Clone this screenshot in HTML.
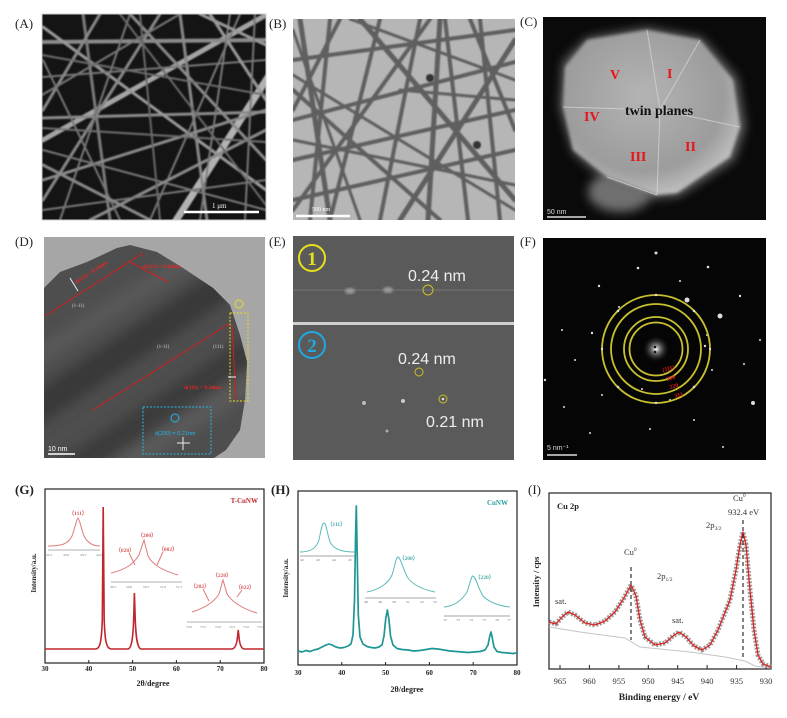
<!DOCTYPE html>
<html><head><meta charset="utf-8"><style>
html,body{margin:0;padding:0;background:#fff;}
svg{display:block;}
text{font-family:"Liberation Serif",serif;}
.sans{font-family:"Liberation Sans",sans-serif;}
</style></head><body>
<svg width="787" height="718" viewBox="0 0 787 718" xmlns="http://www.w3.org/2000/svg">
<defs>
<clipPath id="cA"><rect x="42" y="14" width="224" height="206"/></clipPath>
<clipPath id="cB"><rect x="293" y="19" width="222" height="201"/></clipPath>
<clipPath id="cC"><rect x="543" y="17" width="223" height="203"/></clipPath>
<clipPath id="cD"><rect x="44" y="237" width="221" height="221"/></clipPath>
<clipPath id="cBlob"><path d="M44,288 L60,272 L87,262 L117,248 L130,245 L157,252 L183,268 L213,288 L230,305 L240,335 L247,362 L245,400 L240,430 L226,450 L214,458 L44,458 Z"/></clipPath>
<clipPath id="cF"><rect x="543" y="238" width="223" height="222"/></clipPath>
<radialGradient id="gC" cx="0.45" cy="0.4" r="0.65"><stop offset="0" stop-color="#b4b4b4"/><stop offset="0.7" stop-color="#9c9c9c"/><stop offset="1" stop-color="#c8c8c8"/></radialGradient>
<radialGradient id="gF" cx="0.5" cy="0.5" r="0.5"><stop offset="0" stop-color="#ffffff"/><stop offset="0.25" stop-color="#888"/><stop offset="1" stop-color="#000" stop-opacity="0"/></radialGradient>
<filter id="bl" x="-20%" y="-20%" width="140%" height="140%"><feGaussianBlur stdDeviation="5"/></filter>
<filter id="bl2"><feGaussianBlur stdDeviation="1.2"/></filter>
<filter id="bl3" x="-10%" y="-10%" width="120%" height="120%"><feGaussianBlur stdDeviation="0.7"/></filter>
<filter id="bl6" x="-30%" y="-30%" width="160%" height="160%"><feGaussianBlur stdDeviation="7"/></filter>
<filter id="blc" x="-10%" y="-10%" width="120%" height="120%"><feGaussianBlur stdDeviation="1.5"/></filter>
</defs>

<!-- panel labels -->
<g font-size="13" fill="#222">
<text x="15" y="28">(A)</text>
<text x="269" y="28">(B)</text>
<text x="520" y="26">(C)</text>
<text x="15" y="246">(D)</text>
<text x="269" y="246">(E)</text>
<text x="520" y="246">(F)</text>
<text x="15" y="494" font-weight="bold">(G)</text>
<text x="271" y="494" font-weight="bold">(H)</text>
<text x="528" y="494">(I)</text>
</g>

<!-- Panel A -->
<g clip-path="url(#cA)">
<rect x="42" y="14" width="224" height="206" fill="#141414"/>
<g stroke-linecap="round" fill="none" filter="url(#bl3)">
<line x1="43" y1="140" x2="266" y2="15" stroke="#a4a4a4" stroke-width="5"/>
<line x1="175" y1="222" x2="268" y2="77" stroke="#b2b2b2" stroke-width="7"/>
<line x1="42" y1="42" x2="266" y2="40" stroke="#8a8a8a" stroke-width="4"/>
<line x1="42" y1="118" x2="266" y2="112" stroke="#8a8a8a" stroke-width="3"/>
<line x1="43" y1="27" x2="266" y2="190" stroke="#999" stroke-width="3"/>
<line x1="83" y1="14" x2="110" y2="220" stroke="#7a7a7a" stroke-width="3"/>
<line x1="180" y1="14" x2="207" y2="220" stroke="#888" stroke-width="3"/>
<line x1="43" y1="180" x2="266" y2="110" stroke="#8a8a8a" stroke-width="3"/>
<line x1="43" y1="77" x2="266" y2="60" stroke="#777" stroke-width="2"/>
<line x1="100" y1="14" x2="43" y2="110" stroke="#888" stroke-width="3"/>
<line x1="43" y1="200" x2="160" y2="14" stroke="#888" stroke-width="3"/>
<line x1="130" y1="14" x2="266" y2="160" stroke="#8a8a8a" stroke-width="3"/>
<line x1="43" y1="150" x2="266" y2="210" stroke="#777" stroke-width="2"/>
<line x1="150" y1="220" x2="240" y2="14" stroke="#7a7a7a" stroke-width="2"/>
<line x1="60" y1="220" x2="130" y2="14" stroke="#777" stroke-width="2"/>
<line x1="210" y1="14" x2="266" y2="100" stroke="#999" stroke-width="3"/>
<line x1="42" y1="95" x2="180" y2="14" stroke="#777" stroke-width="2"/>
<line x1="90" y1="220" x2="266" y2="130" stroke="#8a8a8a" stroke-width="3"/>
<line x1="43" y1="60" x2="120" y2="220" stroke="#777" stroke-width="2"/>
<line x1="230" y1="14" x2="200" y2="220" stroke="#7a7a7a" stroke-width="2"/>
<line x1="43" y1="210" x2="266" y2="180" stroke="#777" stroke-width="2"/>
<line x1="140" y1="14" x2="160" y2="220" stroke="#6a6a6a" stroke-width="2"/>
<line x1="43" y1="165" x2="150" y2="220" stroke="#888" stroke-width="3"/>
<line x1="200" y1="14" x2="266" y2="45" stroke="#999" stroke-width="3"/>
<line x1="42" y1="128" x2="266" y2="142" stroke="#6f6f6f" stroke-width="2"/>
<line x1="120" y1="14" x2="266" y2="205" stroke="#6a6a6a" stroke-width="2"/>
<line x1="255" y1="14" x2="245" y2="220" stroke="#777" stroke-width="2"/>
<line x1="42" y1="55" x2="266" y2="95" stroke="#6c6c6c" stroke-width="2"/>
</g>
<line x1="184" y1="212" x2="259" y2="212" stroke="#fff" stroke-width="2.5"/>
<text x="212" y="208" font-size="7" fill="#fff">1 μm</text>
</g>
<rect x="42" y="14" width="224" height="206" fill="none" stroke="#ccc" stroke-width="1"/>

<!-- Panel B -->
<g clip-path="url(#cB)">
<rect x="293" y="19" width="222" height="201" fill="#b6b6b6"/>
<g stroke-linecap="round" fill="none" stroke="#5e5e5e" filter="url(#bl3)">
<line x1="293" y1="60" x2="515" y2="30" stroke-width="4"/>
<line x1="300" y1="19" x2="330" y2="220" stroke-width="5"/>
<line x1="330" y1="19" x2="310" y2="220" stroke-width="4"/>
<line x1="293" y1="120" x2="515" y2="62" stroke-width="4"/>
<line x1="380" y1="19" x2="330" y2="220" stroke-width="4"/>
<line x1="440" y1="19" x2="428" y2="220" stroke-width="5"/>
<line x1="293" y1="160" x2="515" y2="110" stroke-width="4"/>
<line x1="293" y1="90" x2="440" y2="220" stroke-width="4"/>
<line x1="360" y1="19" x2="515" y2="200" stroke-width="5"/>
<line x1="470" y1="19" x2="515" y2="130" stroke-width="4"/>
<line x1="293" y1="200" x2="515" y2="150" stroke-width="4"/>
<line x1="420" y1="19" x2="380" y2="220" stroke-width="4"/>
<line x1="293" y1="30" x2="360" y2="220" stroke-width="3"/>
<line x1="515" y1="40" x2="400" y2="220" stroke-width="5"/>
<line x1="445" y1="19" x2="468" y2="220" stroke-width="4"/>
<line x1="293" y1="140" x2="515" y2="185" stroke-width="3"/>
<line x1="340" y1="19" x2="293" y2="110" stroke-width="4"/>
<line x1="400" y1="90" x2="515" y2="100" stroke-width="3"/>
<line x1="480" y1="19" x2="500" y2="220" stroke-width="4"/>
<line x1="293" y1="210" x2="430" y2="19" stroke-width="4"/>
<line x1="350" y1="19" x2="515" y2="80" stroke-width="3"/>
<line x1="293" y1="75" x2="515" y2="210" stroke-width="3"/>
</g>
<circle cx="430" cy="78" r="4" fill="#333" filter="url(#bl3)"/>
<circle cx="477" cy="145" r="4" fill="#333" filter="url(#bl3)"/>
<line x1="296" y1="216" x2="350" y2="216" stroke="#fff" stroke-width="2.5"/>
<text x="312" y="211" font-size="6" fill="#fff">500 nm</text>
</g>

<!-- Panel C -->
<g clip-path="url(#cC)">
<rect x="543" y="17" width="223" height="203" fill="#0a0a0a"/>
<ellipse cx="620" cy="192" rx="32" ry="20" fill="#707070" filter="url(#bl)"/>
<path d="M563,62 L587,38 L647,28 L702,38 L737,78 L745,127 L734,160 L679,196 L655,198 L605,180 L573,152 L560,107 Z" fill="#6a6a6a" filter="url(#bl)"/>
<path d="M565,67 L587,40 L647,30 L700,40 L733,80 L740,127 L730,157 L677,193 L657,195 L607,177 L573,150 L563,107 Z" fill="url(#gC)" filter="url(#blc)"/>
<g stroke="#d8d8d8" stroke-width="1" fill="none" opacity="0.7">
<path d="M647,30 L660,110 L700,40"/>
<path d="M660,110 L740,127"/>
<path d="M660,110 L657,195"/>
<path d="M660,110 L563,107"/>
<path d="M607,177 L657,195"/>
</g>
<g fill="#e8141a" font-weight="bold" font-size="14">
<text x="610" y="79">V</text>
<text x="667" y="78">I</text>
<text x="584" y="121">IV</text>
<text x="630" y="161">III</text>
<text x="685" y="151">II</text>
</g>
<text x="625" y="115" font-size="14" font-weight="bold" fill="#111">twin planes</text>
<line x1="547" y1="217" x2="586" y2="217" stroke="#ddd" stroke-width="1.5"/>
<text x="547" y="214" font-size="7" class="sans" fill="#ddd">50 nm</text>
</g>

<!-- Panel D -->
<g clip-path="url(#cD)">
<rect x="44" y="237" width="221" height="221" fill="#a6a6a6"/>
<g clip-path="url(#cBlob)">
<rect x="44" y="237" width="221" height="221" fill="#4e4e4e"/>
<g stroke-linecap="butt" fill="none" filter="url(#bl6)">
<line x1="20" y1="420" x2="260" y2="260" stroke="#383838" stroke-width="30"/>
<line x1="40" y1="490" x2="280" y2="330" stroke="#3a3a3a" stroke-width="26"/>
<line x1="0" y1="380" x2="220" y2="240" stroke="#5a5a5a" stroke-width="16"/>
<line x1="100" y1="480" x2="300" y2="350" stroke="#5c5c5c" stroke-width="18"/>
</g>
</g>
<g stroke="#d21e1e" stroke-width="1" fill="none">
<line x1="45" y1="316" x2="143" y2="253"/>
<line x1="130" y1="262" x2="168" y2="282"/>
<line x1="93" y1="410" x2="230" y2="323"/>
<line x1="232" y1="325" x2="236" y2="400"/>
</g>
<g fill="#e22" font-size="5.5" font-weight="bold" class="sans">
<text x="76" y="284" transform="rotate(-33 76 284)">d(111) = 0.24nm</text>
<text x="143" y="268">d(111) = 0.24nm</text>
<text x="184" y="389">d(111) = 0.24nm</text>
</g>
<g fill="#ccc" font-size="5" class="sans">
<text x="72" y="307">(1-11)</text>
<text x="157" y="348">(1-11)</text>
<text x="213" y="348">(111)</text>
</g>
<rect x="230" y="313" width="18" height="88" fill="none" stroke="#e6dc1c" stroke-width="1" stroke-dasharray="2 1.5"/>
<circle cx="239" cy="304" r="4" fill="none" stroke="#e6dc1c" stroke-width="1"/>
<rect x="143" y="407" width="68" height="47" fill="none" stroke="#26b4e6" stroke-width="1" stroke-dasharray="2 1.5"/>
<circle cx="175" cy="418" r="4" fill="none" stroke="#26b4e6" stroke-width="1"/>
<text x="155" y="435" fill="#26b4e6" font-size="5.5" class="sans">d(200) = 0.21nm</text>
<g stroke="#eee" stroke-width="1"><line x1="177" y1="443" x2="190" y2="443"/><line x1="183" y1="437" x2="183" y2="450"/><line x1="228" y1="377" x2="236" y2="377"/><line x1="70" y1="278" x2="78" y2="291"/></g>
<line x1="48" y1="454" x2="75" y2="454" stroke="#fff" stroke-width="1.5"/>
<text x="48" y="451" font-size="7" class="sans" fill="#fff">10 nm</text>
</g>

<!-- Panel E -->
<rect x="293" y="236" width="221" height="224" fill="#5a5a5a"/>
<rect x="293" y="322" width="221" height="3" fill="#d0d0d0"/>
<line x1="293" y1="290" x2="514" y2="290" stroke="#777" stroke-width="1"/>
<ellipse cx="350" cy="291" rx="5" ry="3" fill="#999" filter="url(#bl2)"/>
<ellipse cx="388" cy="290" rx="5" ry="3" fill="#999" filter="url(#bl2)"/>
<circle cx="312" cy="258" r="13" fill="none" stroke="#e8e01c" stroke-width="2"/>
<text x="312" y="265" text-anchor="middle" font-size="19" font-weight="bold" fill="#e8e01c">1</text>
<text x="408" y="281" font-size="16" class="sans" fill="#eee">0.24 nm</text>
<circle cx="428" cy="290" r="5" fill="none" stroke="#c8c020" stroke-width="1"/>
<circle cx="312" cy="345" r="13" fill="none" stroke="#22a8e0" stroke-width="2"/>
<text x="312" y="352" text-anchor="middle" font-size="19" font-weight="bold" fill="#22a8e0">2</text>
<text x="398" y="364" font-size="16" class="sans" fill="#eee">0.24 nm</text>
<circle cx="419" cy="372" r="4" fill="none" stroke="#c8c020" stroke-width="1"/>
<circle cx="443" cy="399" r="4" fill="none" stroke="#c8c020" stroke-width="1"/>
<text x="426" y="427" font-size="16" class="sans" fill="#eee">0.21 nm</text>
<circle cx="364" cy="403" r="2" fill="#bbb"/>
<circle cx="403" cy="401" r="2" fill="#ccc"/>
<circle cx="387" cy="431" r="1.5" fill="#aaa"/>
<circle cx="443" cy="399" r="1.3" fill="#ddd"/>

<!-- Panel F -->
<g clip-path="url(#cF)">
<rect x="543" y="238" width="223" height="222" fill="#050505"/>
<circle cx="656" cy="349" r="14" fill="url(#gF)"/>
<g fill="#ddd">
<circle cx="655" cy="347" r="1.3" fill="#111"/><circle cx="655" cy="352" r="1.3" fill="#111"/>
<circle cx="687" cy="300" r="2.5"/><circle cx="720" cy="316" r="2.5"/><circle cx="753" cy="403" r="2"/>
<circle cx="656" cy="253" r="1.5"/><circle cx="638" cy="268" r="1.3"/><circle cx="708" cy="267" r="1.3"/>
<circle cx="740" cy="296" r="1.2"/><circle cx="599" cy="286" r="1.2"/><circle cx="592" cy="333" r="1.2"/>
<circle cx="705" cy="346" r="1.2"/><circle cx="562" cy="330" r="1"/><circle cx="707" cy="335" r="1"/>
<circle cx="712" cy="370" r="1"/><circle cx="602" cy="395" r="1"/><circle cx="564" cy="407" r="1"/>
<circle cx="590" cy="433" r="1"/><circle cx="650" cy="429" r="1"/><circle cx="723" cy="447" r="1"/>
<circle cx="744" cy="364" r="1"/><circle cx="619" cy="307" r="1"/><circle cx="680" cy="281" r="1"/>
<circle cx="642" cy="389" r="1"/><circle cx="670" cy="400" r="1"/><circle cx="760" cy="340" r="1"/>
<circle cx="545" cy="380" r="1.2"/><circle cx="575" cy="360" r="1"/><circle cx="694" cy="420" r="1"/>
</g>
<g fill="none" stroke="#c9c030" stroke-width="1.8">
<circle cx="656" cy="349" r="54"/>
<circle cx="656" cy="349" r="45"/>
<circle cx="656" cy="349" r="32"/>
<circle cx="656" cy="349" r="26.5"/>
</g>
<g fill="#ddd">
<circle cx="656" cy="295" r="1.2"/><circle cx="656" cy="403" r="1.2"/><circle cx="602" cy="349" r="1.2"/><circle cx="710" cy="349" r="1.2"/>
<circle cx="618" cy="311" r="1.2"/><circle cx="694" cy="311" r="1.2"/><circle cx="618" cy="387" r="1.2"/><circle cx="694" cy="387" r="1.2"/>
</g>
<g fill="#e01818" font-size="6" font-weight="bold" class="sans">
<text x="663" y="372" transform="rotate(-15 663 372)">(111)</text>
<text x="667" y="381" transform="rotate(-15 667 381)">200</text>
<text x="670" y="389" transform="rotate(-15 670 389)">220</text>
<text x="675" y="398" transform="rotate(-15 675 398)">311</text>
</g>
<line x1="547" y1="455" x2="577" y2="455" stroke="#ddd" stroke-width="1.5"/>
<text x="547" y="450" font-size="7" class="sans" fill="#ddd">5 nm⁻¹</text>
</g>

<!-- Panel G -->
<rect x="45" y="489" width="219" height="174" fill="none" stroke="#222" stroke-width="1.2"/>
<g stroke="#222" stroke-width="1">
<line x1="88.8" y1="663" x2="88.8" y2="660"/><line x1="132.6" y1="663" x2="132.6" y2="660"/><line x1="176.4" y1="663" x2="176.4" y2="660"/><line x1="220.2" y1="663" x2="220.2" y2="660"/>
</g>
<g font-size="7" text-anchor="middle" fill="#222" font-weight="bold">
<text x="45" y="671">30</text><text x="88.8" y="671">40</text><text x="132.6" y="671">50</text><text x="176.4" y="671">60</text><text x="220.2" y="671">70</text><text x="264" y="671">80</text>
</g>
<text x="153" y="686" font-size="8" font-weight="bold" text-anchor="middle" fill="#222">2θ/degree</text>
<text x="0" y="0" font-size="7" font-weight="bold" text-anchor="middle" fill="#222" transform="translate(36 573) rotate(-90)">Intensity/a.u.</text>
<path d="M45,649 L96,649 C100,648.5 101.5,642 102.3,620 L103.2,507 L104.2,620 C105,642 106.5,648.5 111,649 L128,649 C132,648 133.2,636 133.8,615 L134.4,593 L135.1,615 C135.7,636 137,648 141,649 L232,649 C236,648.5 237.2,642 237.7,635 L238.2,630 L238.8,635 C239.3,642 240.5,648.5 244,649 L264,649" fill="none" stroke="#c0272d" stroke-width="1.6"/>
<text x="258" y="503" font-size="7" font-weight="bold" text-anchor="end" fill="#c0272d">T-CuNW</text>
<g fill="none" stroke="#e07a7a" stroke-width="1">
<path d="M48,546 C62,546 68,544 72,536 C75,528 76.5,519 78,518 C79.5,519 81,528 84,536 C88,544 94,546 100,546"/>
<path d="M111,573 C124,570 133,565 139,555 L144,540 L148,556 C153,566 165,571 178,575"/>
<path d="M192,612 C205,608 214,602 219,594 L223,580 L227,594 C232,602 243,609 257,613"/>
<path d="M135,565 L129,553 M157,565 L163,552 M209,601 L203,589 M237,597 L242,590"/>
</g>
<g stroke="#999" stroke-width="0.8"><line x1="48" y1="550" x2="100" y2="550"/><line x1="111" y1="582" x2="182" y2="582"/><line x1="187" y1="622" x2="262" y2="622"/></g>
<g font-size="3.5" fill="#777" text-anchor="middle">
<text x="49" y="556">42.5</text><text x="66" y="556">43.0</text><text x="83" y="556">43.5</text><text x="99" y="556">44.0</text>
<text x="113" y="588">49.5</text><text x="129" y="588">50.0</text><text x="146" y="588">50.5</text><text x="163" y="588">51.0</text><text x="179" y="588">51.5</text>
<text x="189" y="628">73.0</text><text x="203" y="628">73.5</text><text x="218" y="628">74.0</text><text x="232" y="628">74.5</text><text x="246" y="628">75.0</text><text x="260" y="628">75.5</text>
</g>
<g font-size="5.5" font-weight="bold" fill="#d85a5a" text-anchor="middle">
<text x="78" y="515">（111）</text>
<text x="147" y="537">（200）</text>
<text x="125" y="552">（020）</text>
<text x="168" y="551">（002）</text>
<text x="222" y="577">（220）</text>
<text x="200" y="588">（202）</text>
<text x="245" y="589">（022）</text>
</g>

<!-- Panel H -->
<rect x="298" y="491" width="219" height="174" fill="none" stroke="#222" stroke-width="1.2"/>
<g stroke="#222" stroke-width="1">
<line x1="341.8" y1="665" x2="341.8" y2="662"/><line x1="385.6" y1="665" x2="385.6" y2="662"/><line x1="429.4" y1="665" x2="429.4" y2="662"/><line x1="473.2" y1="665" x2="473.2" y2="662"/>
</g>
<g font-size="7" text-anchor="middle" fill="#222" font-weight="bold">
<text x="298" y="675">30</text><text x="341.8" y="675">40</text><text x="385.6" y="675">50</text><text x="429.4" y="675">60</text><text x="473.2" y="675">70</text><text x="517" y="675">80</text>
</g>
<text x="407" y="692" font-size="8" font-weight="bold" text-anchor="middle" fill="#222">2θ/degree</text>
<text x="0" y="0" font-size="7" font-weight="bold" text-anchor="middle" fill="#222" transform="translate(288 578) rotate(-90)">Intensity/a.u.</text>
<path d="M298,651 L302,652 L306,650.5 L310,651.5 L314,650 L318,649 L322,647 L326,645 L329,644 L332,645 L336,647 L340,648 L344,647.5 L348,646 L351,644 L353,635 L354.5,600 L355.5,540 L356.3,506 L357.3,560 L358.3,615 L360,637 L363,644 L367,646.5 L371,647.5 L375,648 L379,647 L382,645 L384,636 L385.8,618 L387.4,610 L389,620 L390.5,636 L393,645 L397,648.5 L402,649.5 L408,650 L414,651 L420,650.5 L426,649.5 L432,648.5 L438,649 L444,650 L450,651 L456,651.5 L462,652 L468,652.5 L474,652 L480,651.5 L485,650 L488,645 L489.8,636 L491,632 L492.3,638 L494,647 L497,651.5 L502,652.5 L508,653 L513,653.5 L517,653" fill="none" stroke="#1f9696" stroke-width="1.7" stroke-linejoin="round"/>
<text x="508" y="505" font-size="7" font-weight="bold" text-anchor="end" fill="#2aa0a0">CuNW</text>
<g fill="none" stroke="#5cbaba" stroke-width="1">
<path d="M300,552 C310,552 316,549 319,540 C321,530 322,523 324,523 C326,523 327,532 330,542 C334,550 343,552 355,552"/>
<path d="M367,592 C378,590 388,584 392,575 C395,566 396,557 398,557 C401,558 403,570 408,578 C414,586 425,590 435,592"/>
<path d="M444,607 C455,606 462,600 467,592 C470,584 471,576 473,576 C476,577 478,588 483,596 C490,603 500,606 510,607"/>
</g>
<g stroke="#888" stroke-width="0.8"><line x1="300" y1="556" x2="355" y2="556"/><line x1="365" y1="598" x2="436" y2="598"/><line x1="444" y1="616" x2="510" y2="616"/></g>
<g font-size="3.5" fill="#666" text-anchor="middle">
<text x="302" y="561">42</text><text x="318" y="561">43</text><text x="334" y="561">44</text><text x="350" y="561">45</text>
<text x="366" y="603">48</text><text x="380" y="603">49</text><text x="394" y="603">50</text><text x="408" y="603">51</text><text x="422" y="603">52</text><text x="435" y="603">53</text>
<text x="445" y="621">72</text><text x="458" y="621">73</text><text x="471" y="621">74</text><text x="484" y="621">75</text><text x="497" y="621">76</text><text x="509" y="621">77</text>
</g>
<g font-size="5.5" font-weight="bold" fill="#4aaaaa">
<text x="327" y="526">（111）</text>
<text x="399" y="560">（200）</text>
<text x="475" y="579">（220）</text>
</g>

<!-- Panel I -->
<rect x="549" y="493" width="222" height="176" fill="none" stroke="#222" stroke-width="1.2"/>
<g stroke="#222" stroke-width="1">
<line x1="560" y1="669" x2="560" y2="665"/><line x1="589.4" y1="669" x2="589.4" y2="665"/><line x1="618.9" y1="669" x2="618.9" y2="665"/><line x1="648.3" y1="669" x2="648.3" y2="665"/><line x1="677.7" y1="669" x2="677.7" y2="665"/><line x1="707.1" y1="669" x2="707.1" y2="665"/><line x1="736.6" y1="669" x2="736.6" y2="665"/><line x1="766" y1="669" x2="766" y2="665"/>
</g>
<g font-size="8.5" text-anchor="middle" fill="#333">
<text x="560" y="684">965</text><text x="589.4" y="684">960</text><text x="618.9" y="684">955</text><text x="648.3" y="684">950</text><text x="677.7" y="684">945</text><text x="707.1" y="684">940</text><text x="736.6" y="684">935</text><text x="766" y="684">930</text>
</g>
<text x="659" y="700" font-size="9.5" font-weight="bold" text-anchor="middle" fill="#222">Binding energy / eV</text>
<text x="0" y="0" font-size="8.5" font-weight="bold" text-anchor="middle" fill="#222" transform="translate(539 582) rotate(-90)">Intensity / cps</text>
<path d="M549,627 L580,632 L625,638 L640,647 L690,652 L725,657 L745,661 L755,666 L771,668" fill="none" stroke="#c4c4c4" stroke-width="1"/>
<polyline points="549,622 556,624 562,617 568,612 575,615 585,623 595,625 605,621 615,612 624,598 631,585 636,596 640,620 645,637 655,645 665,643 673,636 679,632 686,637 694,646 702,650 710,645 718,630 724,615 730,600 736,570 740,545 743,532 746,545 750,590 754,630 758,655 763,664 771,667" fill="none" stroke="#8a8a8a" stroke-width="5" stroke-dasharray="2 1.5" stroke-linejoin="round" opacity="0.85"/>
<polyline points="549,622 556,624 562,617 568,612 575,615 585,623 595,625 605,621 615,612 624,598 631,585 636,596 640,620 645,637 655,645 665,643 673,636 679,632 686,637 694,646 702,650 710,645 718,630 724,615 730,600 736,570 740,545 743,532 746,545 750,590 754,630 758,655 763,664 771,667" fill="none" stroke="#e02020" stroke-width="1.3" stroke-linejoin="round"/>
<g stroke="#333" stroke-width="1.2" stroke-dasharray="4 3">
<line x1="631" y1="567" x2="631" y2="640"/>
<line x1="743" y1="520" x2="743" y2="660"/>
</g>
<g font-size="8.5" fill="#333">
<text x="557" y="509" font-weight="bold" fill="#222">Cu 2p</text>
<text x="624" y="555">Cu<tspan font-size="5.5" dy="-4">0</tspan></text>
<text x="657" y="579">2p<tspan font-size="5.5" dy="2">1/2</tspan></text>
<text x="555" y="604">sat.</text>
<text x="672" y="623">sat.</text>
<text x="706" y="528">2p<tspan font-size="5.5" dy="2">3/2</tspan></text>
<text x="733" y="501">Cu<tspan font-size="5.5" dy="-4">0</tspan></text>
<text x="728" y="515">932.4 eV</text>
</g>
</svg>
</body></html>
